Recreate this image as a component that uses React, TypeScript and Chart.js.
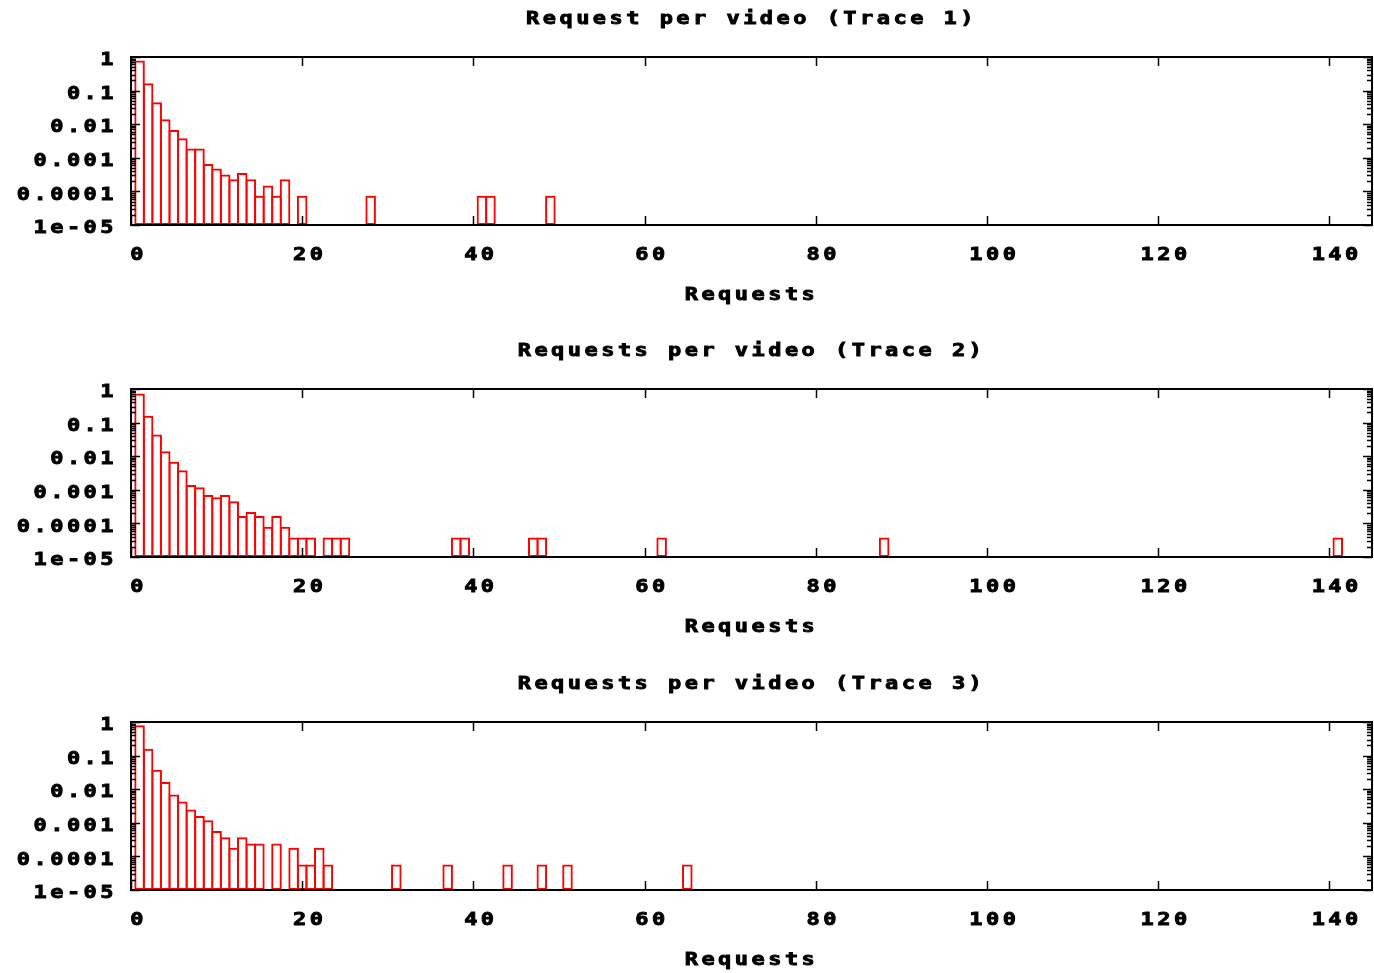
import React, { useEffect, useRef } from 'react';
import { Chart, registerables } from 'chart.js';

Chart.register(...registerables);

// ---- data ----
const TITLES = [
  'Request per video (Trace 1)',
  'Requests per video (Trace 2)',
  'Requests per video (Trace 3)',
];
const X_AXIS_TITLE = 'Requests';
const X_TICKS = [0, 20, 40, 60, 80, 100, 120, 140];
const X_MIN = 0;
const X_MAX = 145;
const Y_TICKS = [1e-5, 1e-4, 1e-3, 1e-2, 1e-1, 1];
const Y_TICK_LABELS = ['1e-05', '0.0001', '0.001', '0.01', '0.1', '1'];
const Y_MIN = 1e-5;
const Y_MAX = 1;

const TRACE1_X = [1, 2, 3, 4, 5, 6, 7, 8, 9, 10, 11, 12, 13, 14, 15, 16, 17, 18, 20, 28, 41, 42, 49];
const TRACE1_Y = [
  0.79, 0.166, 0.045, 0.014, 0.0067, 0.0038, 0.0019, 0.0019, 0.00065, 0.00048,
  0.00032, 0.00023, 0.00035, 0.00023, 0.000074, 0.00015, 0.000074, 0.00023, 0.000074,
  0.000074, 0.000074, 0.000074, 0.000074,
];

const TRACE2_X = [
  1, 2, 3, 4, 5, 6, 7, 8, 9, 10, 11, 12, 13, 14, 15, 16, 17, 18, 19, 20, 21,
  23, 24, 25, 38, 39, 47, 48, 62, 88, 141,
];
const TRACE2_Y = [
  0.74, 0.16, 0.044, 0.014, 0.0068, 0.0038, 0.0014, 0.0012, 0.0007, 0.0006,
  0.0007, 0.00046, 0.000166, 0.00022, 0.000166, 0.00008, 0.000166, 0.00008,
  0.000038, 0.000038, 0.000038,
  0.000038, 0.000038, 0.000038,
  0.000038, 0.000038, 0.000038, 0.000038, 0.000038, 0.000038, 0.000038,
];

const TRACE3_X = [
  1, 2, 3, 4, 5, 6, 7, 8, 9, 10, 11, 12, 13, 14, 15, 17, 19, 20, 21, 22, 23,
  31, 37, 44, 48, 51, 65,
];
const TRACE3_Y = [
  0.8, 0.16, 0.038, 0.0165, 0.0069, 0.0043, 0.0025, 0.0016, 0.0012, 0.00057,
  0.00037, 0.00018, 0.00037, 0.00024, 0.00024, 0.00024, 0.00018, 0.000057,
  0.000057, 0.00018, 0.000057,
  0.000057, 0.000057, 0.000057, 0.000057, 0.000057, 0.000057,
];

const SERIES_X = [TRACE1_X, TRACE2_X, TRACE3_X];
const SERIES_Y = [TRACE1_Y, TRACE2_Y, TRACE3_Y];

// ---- style ----
const CANVAS_W = 1374;
const CANVAS_H = 333;
const PANEL_TOPS = [0, 332, 665];
const FONT = { family: '"DejaVu Sans Mono", monospace', size: 18, weight: 'bold' as const, lineHeight: 1.2 };
const TEXT_STRETCH = 1.22;
const LETTER_SPACING = '2.85px';
const TEXT_STROKE = 0.9;

const gnuFrame = {
  id: 'gnuFrame',
  beforeDraw(chart: any) {
    const ctx = chart.ctx;
    if (!ctx.__stretched) {
      const origFill = ctx.fillText.bind(ctx);
      const origStroke = ctx.strokeText.bind(ctx);
      ctx.fillText = function (text: string, x: number, y: number, maxWidth?: number) {
        ctx.save();
        ctx.translate(x, y);
        ctx.scale(TEXT_STRETCH, 1);
        ctx.strokeStyle = ctx.fillStyle;
        ctx.lineWidth = TEXT_STROKE;
        ctx.lineJoin = 'miter';
        if (maxWidth === undefined || maxWidth === null) {
          origFill(text, 0, 0);
          origStroke(text, 0, 0);
        } else {
          origFill(text, 0, 0, maxWidth / TEXT_STRETCH);
          origStroke(text, 0, 0, maxWidth / TEXT_STRETCH);
        }
        ctx.restore();
      };
      ctx.__stretched = true;
    }
    ctx.letterSpacing = LETTER_SPACING;
  },
  afterDatasetsDraw(chart: any) {
    const { ctx, chartArea } = chart;
    const { left, right, top, bottom } = chartArea;
    const xs = chart.scales.x;
    const ys = chart.scales.y;
    ctx.save();
    ctx.strokeStyle = '#000';
    ctx.lineWidth = 1.5;
    ctx.beginPath();
    for (const v of X_TICKS) {
      const px = Math.round(xs.getPixelForValue(v)) + 0.5;
      ctx.moveTo(px, bottom);
      ctx.lineTo(px, bottom - 9);
      ctx.moveTo(px, top);
      ctx.lineTo(px, top + 9);
    }
    for (let d = -5; d <= 0; d++) {
      const base = Math.pow(10, d);
      const py = Math.round(ys.getPixelForValue(base)) + 0.5;
      ctx.moveTo(left, py);
      ctx.lineTo(left + 9, py);
      ctx.moveTo(right, py);
      ctx.lineTo(right - 9, py);
      if (d < 0) {
        for (let m = 2; m <= 9; m++) {
          const pm = Math.round(ys.getPixelForValue(base * m)) + 0.5;
          ctx.moveTo(left, pm);
          ctx.lineTo(left + 5, pm);
          ctx.moveTo(right, pm);
          ctx.lineTo(right - 5, pm);
        }
      }
    }
    ctx.stroke();
    ctx.lineWidth = 2;
    ctx.strokeRect(left, top, right - left, bottom - top);
    ctx.restore();
  },
};

function makeConfig(i: number): any {
  const data = SERIES_X[i].map((x, k) => ({ x, y: SERIES_Y[i][k] }));
  return {
    type: 'bar',
    data: {
      datasets: [
        {
          data,
          backgroundColor: 'rgba(255,255,255,0)',
          borderColor: '#ff0000',
          borderWidth: 2,
          borderSkipped: false,
          barPercentage: 1.233,
          categoryPercentage: 1,
        },
      ],
    },
    options: {
      animation: false,
      responsive: false,
      devicePixelRatio: 1,
      layout: { padding: { left: 0, right: 2, top: 0, bottom: 0 } },
      plugins: {
        legend: { display: false },
        tooltip: { enabled: false },
        title: {
          display: true,
          text: TITLES[i],
          color: '#000',
          font: FONT,
          fullSize: false,
          padding: { top: 8.2, bottom: 27.2 },
        },
      },
      scales: {
        x: {
          type: 'linear',
          min: X_MIN,
          max: X_MAX,
          offset: false,
          grid: { display: false, offset: false, drawTicks: false },
          border: { display: false },
          afterBuildTicks(scale: any) {
            scale.ticks = X_TICKS.map((v) => ({ value: v }));
          },
          afterFit(scale: any) {
            scale.height = CANVAS_H - 225;
            scale.paddingLeft = 0;
            scale.paddingRight = 0;
          },
          ticks: {
            color: '#000',
            font: FONT,
            padding: 20,
            labelOffset: 7.5,
            autoSkip: false,
            maxRotation: 0,
            callback: (v: any) => String(v),
          },
          title: {
            display: true,
            text: X_AXIS_TITLE,
            color: '#000',
            font: FONT,
            padding: { top: 0, bottom: 27.2 },
          },
        },
        y: {
          type: 'logarithmic',
          min: Y_MIN,
          max: Y_MAX,
          grid: { display: false, drawTicks: false },
          border: { display: false },
          afterBuildTicks(scale: any) {
            scale.ticks = Y_TICKS.map((v) => ({ value: v }));
          },
          afterFit(scale: any) {
            scale.width = 131;
            scale.paddingTop = 0;
            scale.paddingBottom = 0;
          },
          ticks: {
            color: '#000',
            font: FONT,
            padding: 14,
            labelOffset: 3.5,
            autoSkip: false,
            callback: (_v: any, idx: number) => Y_TICK_LABELS[idx],
          },
        },
      },
    },
    plugins: [gnuFrame],
  };
}

function Panel({ index }: { index: number }) {
  const ref = useRef<HTMLCanvasElement>(null);
  useEffect(() => {
    if (!ref.current) return;
    const chart = new Chart(ref.current, makeConfig(index));
    return () => chart.destroy();
  }, [index]);
  return (
    <canvas
      ref={ref}
      width={CANVAS_W}
      height={CANVAS_H}
      style={{ position: 'absolute', left: 0, top: PANEL_TOPS[index], width: CANVAS_W, height: CANVAS_H }}
    />
  );
}

export default function App() {
  return (
    <div
      style={{
        position: 'absolute',
        left: 0,
        top: 0,
        width: CANVAS_W,
        height: 973,
        overflow: 'hidden',
        background: '#fff',
      }}
    >
      {[0, 1, 2].map((i) => (
        <Panel key={i} index={i} />
      ))}
    </div>
  );
}
